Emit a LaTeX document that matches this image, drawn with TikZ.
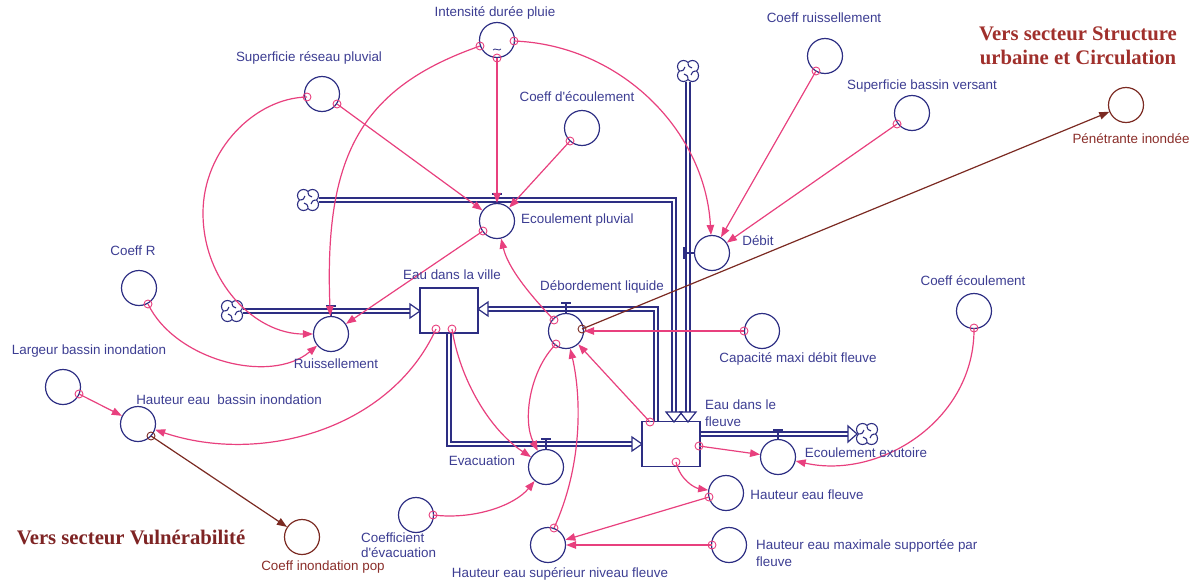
\documentclass[tikz,border=0pt]{standalone}
\usepackage{fontspec}
\setmainfont{Liberation Sans}
\newfontfamily\headfont{Liberation Serif}
\usetikzlibrary{arrows.meta}
\definecolor{navy}{HTML}{2D2E83}
\definecolor{labc}{HTML}{3C3D92}
\definecolor{pinkc}{HTML}{E8407E}
\definecolor{brownc}{HTML}{7B2A22}
\definecolor{brtext}{HTML}{8A2E2A}
\definecolor{headA}{HTML}{A0302C}
\definecolor{headB}{HTML}{7E2424}
\newcommand\drawcloud[1]{%
 \begin{scope}[shift={(#1.center)}]
  \foreach \dx/\dy in {-4.5/-4.5,4.5/-4.5,-4.5/4.5,4.5/4.5}{\draw[navy,line width=1.1pt] (\dx,\dy) circle[radius=6];}
  \fill[white] (0,0) circle[radius=8.2];
  \foreach \rr in {0,90,180,270}{\draw[navy,line width=1.1pt,rotate=\rr] (0,8.4) .. controls (0,5) and (-1.5,3.5) .. (-4,3);}
 \end{scope}}
\begin{document}
\begin{tikzpicture}[x=1pt,y=-1pt,
  var/.style={circle,draw=navy,line width=1.2pt,minimum size=35pt,inner sep=0pt},
  bvar/.style={var,draw=brownc},
  tail/.style={circle,draw=pinkc,line width=0.9pt,minimum size=8pt,inner sep=0pt},
  btail/.style={tail,draw=brownc},
  conn/.style={draw=pinkc,line width=1.2pt,-{Triangle[length=10pt,width=7.5pt]}},
  bconn/.style={draw=brownc,line width=1.2pt,-{Triangle[length=10pt,width=7.5pt]}},
  lbl/.style={text=labc,font=\fontsize{13.4}{16}\selectfont,inner sep=0pt,anchor=mid},
  blbl/.style={lbl,text=brtext},
  head/.style={font=\headfont\bfseries\fontsize{20.7}{24}\selectfont,inner sep=0pt,anchor=mid},
  pipe/.style={draw=navy,line width=1.3pt,double=white,double distance=2.5pt},
  parr/.style={draw=navy,line width=1.2pt,line join=miter},
  stockbox/.style={rectangle,draw=navy,line width=1.2pt,minimum width=58pt,minimum height=45pt,inner sep=0pt},
  valve/.style={draw=navy,line width=1.2pt},
  cloudn/.style={circle,minimum size=22pt,inner sep=0pt}
]
\useasboundingbox (0,0) rectangle (1198,584);
% variables
\node[var] (intens) at (497,40) {};
\node[var] (supres) at (322,94) {};
\node[var] (coefdec) at (582,128) {};
\node[var] (coefruis) at (825,56) {};
\node[var] (supbv) at (912,113) {};
\node[bvar] (penet) at (1126,105) {};
\node[var] (ecp) at (497,221) {};
\node[var] (debit) at (712,253) {};
\node[var] (coefR) at (139,288) {};
\node[var] (ruis) at (331,334) {};
\node[var] (debo) at (566,331) {};
\node[var] (capa) at (762,331) {};
\node[var] (coefecl) at (974,311) {};
\node[var] (larg) at (63,387) {};
\node[var] (hbi) at (138,424) {};
\node[bvar] (cip) at (302,537) {};
\node[var] (evac) at (546,467) {};
\node[var] (exu) at (778,457) {};
\node[var] (hef) at (726,493) {};
\node[var] (hsup) at (548,545) {};
\node[var] (hmax) at (729,545) {};
\node[var] (coefev) at (416,515) {};
% stocks
\node[stockbox] (ville) at (449,310.5) {};
\node[stockbox] (fleuve) at (671,444) {};
% clouds
\node[cloudn] (c1) at (308,200) {};
\node[cloudn] (c2) at (688,71) {};
\node[cloudn] (c3) at (232,311) {};
\node[cloudn] (c4) at (867,434) {};
\drawcloud{c1}\drawcloud{c2}\drawcloud{c3}\drawcloud{c4}
% lookup tilde
\draw[navy,line width=0.8pt] (493,50) .. controls (495,47) and (499,52) .. (501,49);
% pipes
\draw[pipe] (c1) -- (674,200) -- (674,412);
\draw[pipe] (c2) -- (688,412);
\draw[pipe] (c3) -- (410,311);
\draw[pipe] ([xshift=-15pt]fleuve.north) |- (488,309);
\draw[pipe] (ville.south) |- (632,444);
\draw[pipe] ([yshift=10pt]fleuve.east) -- (848,434);
% pipe arrowheads
\draw[parr,fill=white] (410,304) -- (420,311) -- (410,318) -- cycle;
\draw[parr,fill=white] (488,302) -- (478,309) -- (488,316) -- cycle;
\draw[parr,fill=white] (632,437) -- (642,444) -- (632,451) -- cycle;
\draw[parr] (666,412) -- (674,422) -- (682,412) -- cycle;
\draw[parr] (680,412) -- (688,422) -- (696,412) -- cycle;
\draw[parr,fill=white] (848,426) -- (857,434) -- (848,442) -- cycle;
% valves
\draw[valve] (ruis.north) -- ++(0,-10) ++(-5,0) -- ++(10,0);
\draw[valve] (ecp.north) -- ++(0,-9) ++(-5,0) -- ++(10,0);
\draw[valve] (debo.north) -- ++(0,-10) ++(-5,0) -- ++(10,0);
\draw[valve] (evac.north) -- ++(0,-10) ++(-5,0) -- ++(10,0);
\draw[valve] (exu.north) -- ++(0,-9) ++(-5,0) -- ++(10,0);
\draw[valve] (debit.west) -- ++(-10,0) ++(0,-6) -- ++(0,12);
% tails
\node[tail] (tA) at (497,58) {};
\node[tail] (tB) at (480,46) {};
\node[tail] (tC) at (514,41) {};
\node[tail] (tD) at (307,97) {};
\node[tail] (tE) at (337,104) {};
\node[tail] (tF) at (570,141) {};
\node[tail] (tG) at (816,71) {};
\node[tail] (tH) at (897,124) {};
\node[tail] (tI) at (483,231) {};
\node[tail] (tJ) at (148,304) {};
\node[tail] (tK) at (436,329) {};
\node[tail] (tL) at (452,329) {};
\node[tail] (tM) at (554,320) {};
\node[tail] (tN) at (556,344) {};
\node[btail] (tO) at (582,329) {};
\node[tail] (tP) at (744,331) {};
\node[tail] (tQ) at (974,328) {};
\node[tail] (tR) at (79,394) {};
\node[btail] (tS) at (151,436) {};
\node[tail] (tT) at (650,422) {};
\node[tail] (tU) at (699,446) {};
\node[tail] (tV) at (676,462) {};
\node[tail] (tW) at (709,497) {};
\node[tail] (tX) at (554,528) {};
\node[tail] (tY) at (712,545) {};
\node[tail] (tZ) at (433,515) {};
% connectors
\draw[conn] (tA.center) -- (ecp);
\draw[conn] (tE.center) -- (ecp);
\draw[conn] (tF.center) -- (ecp);
\draw[conn] (tB.center) .. controls (360,88) and (324,156) .. (ruis);
\draw[conn] (tD.center) .. controls (255,98) and (203,150) .. (203,213) .. controls (203,282) and (255,334) .. (ruis);
\draw[conn] (tJ.center) .. controls (175,360) and (270,385) .. (ruis);
\draw[conn] (tI.center) -- (ruis);
\draw[conn] (tM.center) .. controls (530,295) and (508,268) .. (ecp);
\draw[conn] (tC.center) .. controls (620,45) and (705,130) .. (debit);
\draw[conn] (tG.center) -- (debit);
\draw[conn] (tH.center) -- (debit);
\draw[conn] (tP.center) -- (debo);
\draw[conn] (tT.center) -- (debo);
\draw[conn] (tN.center) .. controls (530,370) and (522,420) .. (evac);
\draw[conn] (tL.center) .. controls (460,380) and (490,430) .. (evac);
\draw[conn] (tK.center) .. controls (390,430) and (260,465) .. (hbi);
\draw[conn] (tR.center) -- (hbi);
\draw[conn] (tZ.center) .. controls (475,520) and (515,505) .. (evac);
\draw[conn] (tX.center) .. controls (585,460) and (580,390) .. (debo);
\draw[conn] (tV.center) .. controls (680,480) and (695,488) .. (hef);
\draw[conn] (tU.center) -- (exu);
\draw[conn] (tW.center) -- (hsup);
\draw[conn] (tY.center) -- (hsup);
\draw[conn] (tQ.center) .. controls (975,420) and (880,480) .. (exu);
\draw[bconn] (tO.center) -- (penet);
\draw[bconn] (tS.center) -- (cip);
% labels
\node[lbl] (lInt) at (495,14) {Intensité durée pluie};
\node[lbl] (lSupR) at (309,59) {Superficie réseau pluvial};
\node[lbl] (lCdE) at (577,99) {Coeff d\textquotesingle écoulement};
\node[lbl] (lCR) at (824,20) {Coeff ruissellement};
\node[lbl] (lSBV) at (922,87) {Superficie bassin versant};
\node[head,text=headA] (h1) at (1078,38) {Vers secteur Structure};
\node[head,text=headA] (h2) at (1078,62) {urbaine et Circulation};
\node[blbl] (lPen) at (1131,141) {Pénétrante inondée};
\node[lbl,anchor=mid west] (lEcp) at (521,221) {Ecoulement pluvial};
\node[lbl] (lDeb) at (758,243) {Débit};
\node[lbl] (lCoefR) at (133,253) {Coeff R};
\node[lbl] (lVille) at (452,277) {Eau dans la ville};
\node[lbl] (lDebo) at (602,288) {Débordement liquide};
\node[lbl] (lCecl) at (973,283) {Coeff écoulement};
\node[lbl] (lCap) at (798,360) {Capacité maxi débit fleuve};
\node[lbl] (lRuis) at (336,366) {Ruissellement};
\node[lbl] (lLarg) at (89,352) {Largeur bassin inondation};
\node[lbl] (lHbi) at (229,402) {Hauteur eau\ \ bassin inondation};
\node[lbl,anchor=mid west] (lFl1) at (705,407) {Eau dans le};
\node[lbl,anchor=mid west] (lFl2) at (705,424) {fleuve};
\node[lbl] (lEvac) at (482,463) {Evacuation};
\node[lbl] (lExu) at (866,455) {Ecoulement exutoire};
\node[lbl] (lHef) at (807,497) {Hauteur eau fleuve};
\node[lbl,anchor=mid west] (lHm1) at (756,547) {Hauteur eau maximale supportée par};
\node[lbl,anchor=mid west] (lHm2) at (756,564) {fleuve};
\node[lbl,anchor=mid west] (lCe1) at (361,540) {Coefficient};
\node[lbl,anchor=mid west] (lCe2) at (361,555) {d\textquotesingle évacuation};
\node[lbl] (lHsup) at (560,575) {Hauteur eau supérieur niveau fleuve};
\node[blbl] (lCip) at (323,568) {Coeff inondation pop};
\node[head,text=headB] (h3) at (131,542) {Vers secteur Vulnérabilité};
\end{tikzpicture}
\end{document}
